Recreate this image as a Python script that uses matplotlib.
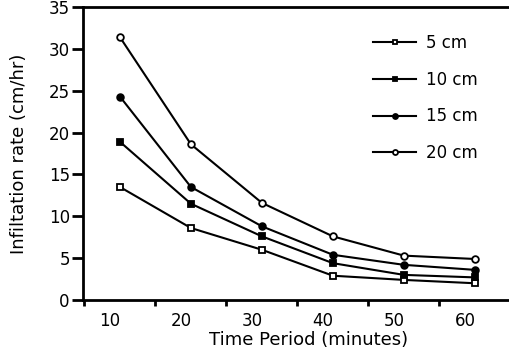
import matplotlib
matplotlib.use("Agg")
import matplotlib.pyplot as plt

plt.rcParams['font.family'] = ['DejaVu Sans']

time = [10, 20, 30, 40, 50, 60]
s5 = [13.5, 8.6, 6.0, 2.9, 2.4, 2.0]
s10 = [18.9, 11.5, 7.6, 4.4, 3.0, 2.7]
s15 = [24.3, 13.5, 8.8, 5.4, 4.2, 3.6]
s20 = [31.4, 18.6, 11.6, 7.6, 5.3, 4.9]
labels = ['5 cm', '10 cm', '15 cm', '20 cm']
xtick_labels = ['10', '20', '30', '40', '50', '60']
yticks = [0, 5, 10, 15, 20, 25, 30, 35]

fig = plt.figure(figsize=(5.09, 3.56), dpi=100)
ax = fig.add_axes([83/509, 56/356, 1 - 83/509, 293/356])

styles = [
    dict(marker='s', mfc='white', mec='black'),
    dict(marker='s', mfc='black', mec='black'),
    dict(marker='o', mfc='black', mec='black'),
    dict(marker='o', mfc='white', mec='black'),
]
for s, lab, st in zip([s5, s10, s15, s20], labels, styles):
    ax.plot(time, s, color='black', lw=1.5, ms=4.8, mew=1.3, label=lab, **st)

ax.set_xlim(4.8, 64.8)
ax.set_ylim(0, 35)
ax.set_yticks(yticks)
ax.set_yticklabels([str(v) for v in yticks])
ax.set_xticks([5, 15, 25, 35, 45, 55])
ax.set_xticklabels([])
ax.set_xticks([t - 1.4 for t in time], minor=True)
ax.set_xticklabels(xtick_labels, minor=True)
ax.tick_params(axis='x', which='minor', length=0, pad=9, labelsize=12)
ax.tick_params(axis='x', which='major', length=4, width=2, direction='out')
ax.tick_params(axis='y', length=8, width=2, direction='out', labelsize=12, pad=1.5)

for sp in ['left', 'bottom', 'top']:
    ax.spines[sp].set_linewidth(2)
ax.spines['right'].set_visible(False)

ax.set_xlabel('Time Period (minutes)', fontsize=13, labelpad=1)
ax.xaxis.set_label_coords((309 - 83) / 426, -0.105)
ax.set_ylabel('Infiltation rate (cm/hr)', fontsize=13, labelpad=15)

leg = fig.legend(loc='upper left', bbox_to_anchor=(373/509, 1 - 34/356), frameon=False,
                 borderpad=0, borderaxespad=0, markerscale=0.75,
                 handlelength=2.6, labelspacing=1.12, fontsize=12, handletextpad=0.55)

fig.savefig('out.png', dpi=100)
